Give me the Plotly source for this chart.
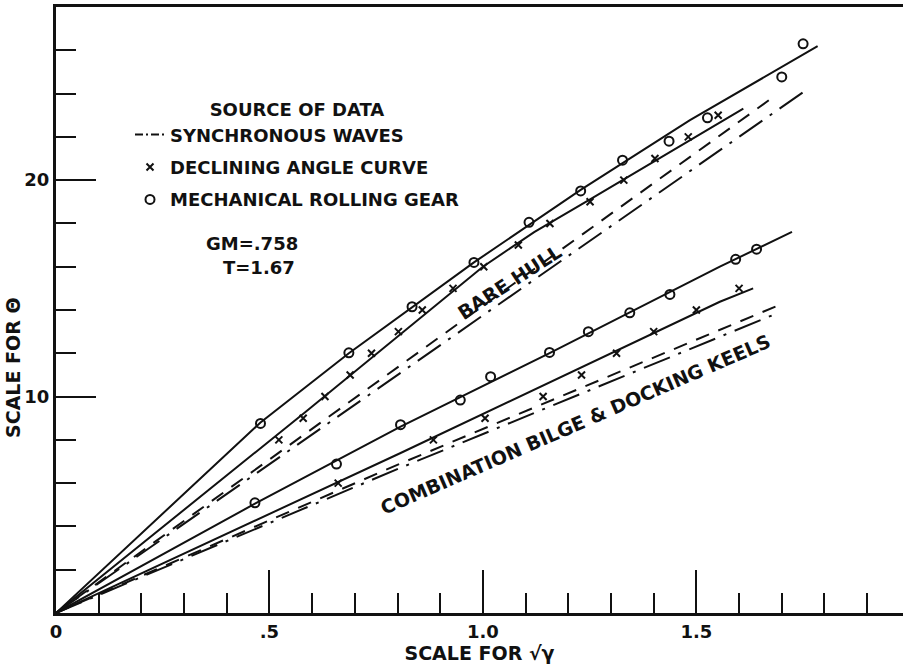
import plotly.graph_objects as go

# ---------------- data ----------------
# BARE HULL
bare_gear_x = [0.479, 0.686, 0.834, 0.979, 1.108, 1.229, 1.327, 1.436, 1.526, 1.700, 1.750]
bare_gear_y = [8.76, 12.02, 14.15, 16.2, 18.05, 19.5, 20.92, 21.8, 22.88, 24.77, 26.3]
bare_gear_fit_x = [0, 0.25, 0.479, 0.686, 0.979, 1.229, 1.485, 1.784]
bare_gear_fit_y = [0, 4.6, 8.8, 12.0, 16.2, 19.55, 22.77, 26.19]

bare_decl_x = [0.522, 0.579, 0.630, 0.689, 0.739, 0.802, 0.858, 0.930, 1.002, 1.083,
               1.157, 1.251, 1.330, 1.403, 1.481, 1.551]
bare_decl_y = [8, 9, 10, 11, 12, 13, 14, 15, 16, 17, 18, 19, 20, 21, 22, 23]
bare_decl_fit_x = [0, 0.3, 0.585, 1.0, 1.12, 1.25, 1.61]
bare_decl_fit_y = [0, 4.75, 9.3, 16.0, 17.6, 19.1, 23.3]

bare_dash_x = [0, 0.585, 1.688]
bare_dash_y = [0, 8.3, 23.95]
bare_sync_x = [0, 0.585, 1.763]
bare_sync_y = [0, 8.05, 24.24]

# COMBINATION BILGE & DOCKING KEELS
comb_gear_x = [0.466, 0.657, 0.807, 0.947, 1.018, 1.156, 1.247, 1.344, 1.438, 1.592, 1.641]
comb_gear_y = [5.09, 6.88, 8.7, 9.84, 10.92, 12.04, 13.0, 13.87, 14.72, 16.34, 16.81]
comb_gear_fit_x = [0, 0.466, 0.806, 1.155, 1.555, 1.724]
comb_gear_fit_y = [0, 5.05, 8.6, 12.0, 16.0, 17.61]

comb_decl_x = [0.661, 0.884, 1.005, 1.141, 1.231, 1.313, 1.400, 1.500, 1.600]
comb_decl_y = [6, 8, 9, 10, 11, 12, 13, 14, 15]
comb_decl_fit_x = [0, 0.806, 1.555, 1.633]
comb_decl_fit_y = [0, 7.38, 14.38, 15.0]

comb_dash_x = [0, 0.806, 1.694]
comb_dash_y = [0, 6.9, 14.23]
comb_sync_x = [0, 0.806, 1.692]
comb_sync_y = [0, 6.7, 13.87]

# axes
x_major = [0, 0.5, 1.0, 1.5]
x_major_text = ["0", ".5", "1.0", "1.5"]
x_minor = [0.1, 0.2, 0.3, 0.4, 0.6, 0.7, 0.8, 0.9, 1.1, 1.2, 1.3, 1.4, 1.6, 1.7, 1.8, 1.9]
y_major = [10, 20]
y_minor = [2, 4, 6, 8, 12, 14, 16, 18, 22, 24, 26]

FONT = "DejaVu Sans"
INK = "#111111"
DASH = "14px,10px"
DASHDOT = "28px,9px,3px,9px"
LEGEND_DASHDOT = "8px,3px,2px,3px"


def f(size):
    return dict(family=FONT, size=size, color=INK, weight="bold")


fig = go.Figure()


def line(x, y, dash="solid"):
    fig.add_trace(go.Scatter(
        x=x, y=y, mode="lines", showlegend=False,
        line=dict(color=INK, width=2, dash=dash), hoverinfo="skip"))


def marks(x, y, symbol, size, name=None, show=False, group=None, rank=1000):
    fig.add_trace(go.Scatter(
        x=x, y=y, mode="markers", name=name, showlegend=show,
        legendgroup=group, legendrank=rank,
        marker=dict(symbol=symbol, size=size, color=INK,
                    line=dict(color=INK, width=2))))


# solid faired curves
line(bare_gear_fit_x, bare_gear_fit_y)
line(bare_decl_fit_x, bare_decl_fit_y)
line(comb_gear_fit_x, comb_gear_fit_y)
line(comb_decl_fit_x, comb_decl_fit_y)
# dashed curves
line(bare_dash_x, bare_dash_y, dash=DASH)
line(comb_dash_x, comb_dash_y, dash=DASH)
# synchronous waves (dash-dot)
line(bare_sync_x, bare_sync_y, dash=DASHDOT)
line(comb_sync_x, comb_sync_y, dash=DASHDOT)
# legend key for the synchronous-wave curves (short dash-dot so it reads in the key)
fig.add_trace(go.Scatter(
    x=[None], y=[None], mode="lines", name="SYNCHRONOUS WAVES",
    legendgroup="a", legendrank=1,
    line=dict(color=INK, width=2, dash=LEGEND_DASHDOT)))
# declining angle curve
marks(bare_decl_x, bare_decl_y, "x-thin-open", 7, name="DECLINING ANGLE CURVE",
      show=True, group="b", rank=2)
marks(comb_decl_x, comb_decl_y, "x-thin-open", 7, group="b")
# mechanical rolling gear
marks(bare_gear_x, bare_gear_y, "circle-open", 9, name="MECHANICAL ROLLING GEAR",
      show=True, group="c", rank=3)
marks(comb_gear_x, comb_gear_y, "circle-open", 9, group="c")

fig.add_annotation(x=0.459, y=17.09, text="GM=.758", showarrow=False, font=f(18))
fig.add_annotation(x=0.475, y=15.98, text="T=1.67", showarrow=False, font=f(18))
fig.add_annotation(x=1.062, y=15.3, text="BARE HULL", showarrow=False, textangle=-33,
                   font=f(19))
fig.add_annotation(x=1.218, y=8.73, text="COMBINATION BILGE &amp; DOCKING KEELS",
                   showarrow=False, textangle=-23.5, font=f(19))
fig.add_annotation(xref="paper", yref="paper", x=(13 - 56) / 847, y=(613 - 368) / 606,
                   xanchor="center", yanchor="middle",
                   text="SCALE FOR Θ", showarrow=False, textangle=-90, font=f(19))

fig.update_layout(
    width=903, height=671, autosize=False,
    margin=dict(l=56, r=0, t=7, b=58),
    paper_bgcolor="white", plot_bgcolor="white",
    font=f(18),
    showlegend=True,
    legend=dict(
        x=(130 - 56) / 847, y=(613 - 93) / 606, xanchor="left", yanchor="top",
        bgcolor="rgba(0,0,0,0)", borderwidth=0,
        font=f(18),
        title=dict(text="SOURCE OF DATA", side="top center", font=f(18)),
        tracegroupgap=6, itemwidth=30,
    ),
    xaxis=dict(
        range=[0, 1.984], showgrid=False, zeroline=False,
        showline=True, linewidth=3, linecolor=INK, mirror=True,
        ticks="inside", ticklen=43, tickwidth=2, tickcolor=INK,
        tickmode="array", tickvals=x_major, ticktext=x_major_text,
        tickfont=f(18),
        minor=dict(ticks="inside", ticklen=20, tickwidth=2, tickcolor=INK,
                   tickmode="array", tickvals=x_minor),
        title=dict(text="SCALE FOR √γ", standoff=4, font=f(19)),
    ),
    yaxis=dict(
        range=[0, 28], showgrid=False, zeroline=False,
        showline=True, linewidth=3, linecolor=INK,
        ticks="inside", ticklen=40, tickwidth=2, tickcolor=INK,
        tickmode="array", tickvals=y_major,
        tickfont=f(18),
        minor=dict(ticks="inside", ticklen=20, tickwidth=2, tickcolor=INK,
                   tickmode="array", tickvals=y_minor),
    ),
)

fig.write_html("out.html")
